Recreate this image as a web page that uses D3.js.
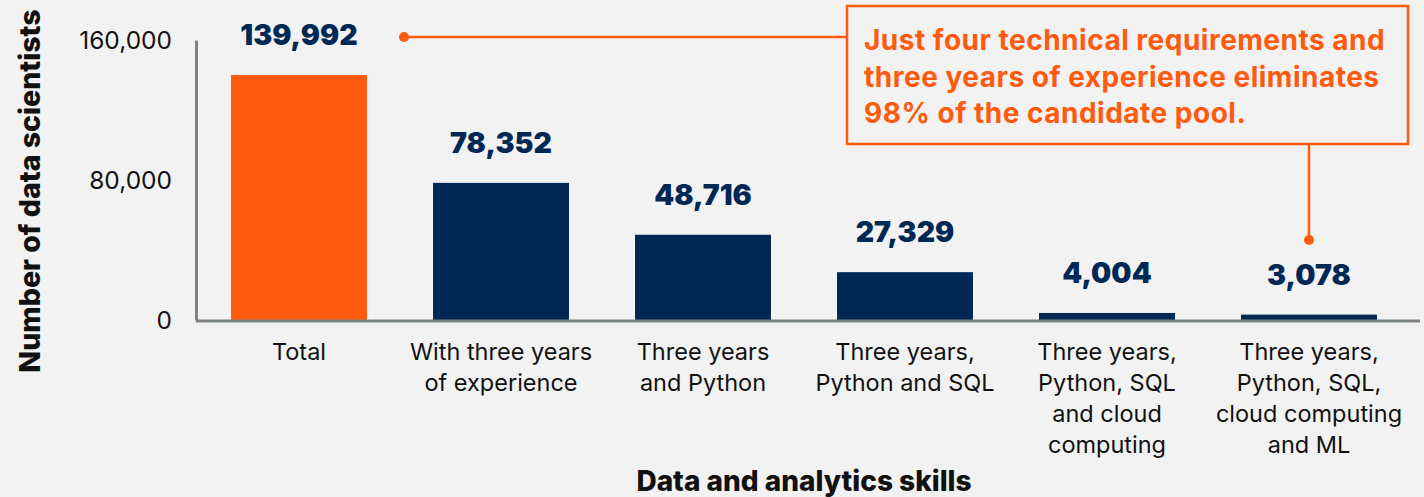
<!DOCTYPE html>
<meta charset="UTF-8">
<style>
body { margin: 0; background: #f2f2f2; }
svg { display: block; }
.tick text { font: 24.5px Inter, sans-serif; fill: #111; }
.val { font: 900 28.5px Inter, sans-serif; fill: #002855; text-anchor: middle; }
.ttl { font: 800 28px Inter, sans-serif; fill: #111; text-anchor: middle; }
.note { font: 700 28px Inter, sans-serif; fill: #ff5a0d; letter-spacing: 0.5px; }
</style>
<body>
<script src="https://d3js.org/d3.v7.min.js"></script>
<script>
var categories = [
  ["Total"],
  ["With three years", "of experience"],
  ["Three years", "and Python"],
  ["Three years,", "Python and SQL"],
  ["Three years,", "Python, SQL", "and cloud", "computing"],
  ["Three years,", "Python, SQL,", "cloud computing", "and ML"]
];
var values = [139992, 78352, 48716, 27329, 4004, 3078];
var yTicks = [0, 80000, 160000];
var noteLines = [
  "Just four technical requirements and",
  "three years of experience eliminates",
  "98% of the candidate pool."
];

var width = 1424, height = 497;
var orange = "#ff5a0d", navy = "#002855", axisGrey = "#7c8383";

var svg = d3.select("body").append("svg")
    .attr("width", width)
    .attr("height", height);

var x = d3.scaleBand()
    .domain(d3.range(values.length))
    .range([198, 1410])
    .paddingInner(0.327)
    .paddingOuter(0.1635);

var y = d3.scaleLinear()
    .domain([0, 160000])
    .range([320, 40]);

// bars
svg.selectAll("rect.bar")
    .data(values)
  .enter().append("rect")
    .attr("class", "bar")
    .attr("x", function(d, i) { return x(i); })
    .attr("width", x.bandwidth())
    .attr("y", function(d) { return y(d); })
    .attr("height", function(d) { return y(0) - y(d); })
    .attr("fill", function(d, i) { return i == 0 ? orange : navy; });

// value labels
svg.selectAll("text.val")
    .data(values)
  .enter().append("text")
    .attr("class", "val")
    .attr("x", function(d, i) { return x(i) + x.bandwidth() / 2; })
    .attr("y", function(d) { return y(d) - 30; })
    .text(d3.format(","));

// y axis
var yAxis = svg.append("g")
    .attr("transform", "translate(196,0)")
    .call(d3.axisLeft(y).tickValues(yTicks).tickFormat(d3.format(",")).tickSize(0).tickPadding(24));
yAxis.select(".domain").attr("stroke", axisGrey).attr("stroke-width", 3);
yAxis.selectAll(".tick text").attr("dy", "0.36em");

// baseline
svg.append("line")
    .attr("x1", 196).attr("x2", 1420)
    .attr("y1", y(0) + 1).attr("y2", y(0) + 1)
    .attr("stroke", axisGrey).attr("stroke-width", 3);

// category labels
var cat = svg.selectAll("text.cat")
    .data(categories)
  .enter().append("text")
    .attr("class", "cat")
    .attr("text-anchor", "middle")
    .style("font", "23.5px Inter, sans-serif")
    .style("fill", "#111");
cat.selectAll("tspan")
    .data(function(d, i) { return d.map(function(t) { return {t: t, i: i}; }); })
  .enter().append("tspan")
    .attr("x", function(d) { return x(d.i) + x.bandwidth() / 2; })
    .attr("y", function(d, j) { return 360 + j * 31; })
    .text(function(d) { return d.t; });

// axis titles
svg.append("text")
    .attr("class", "ttl")
    .attr("transform", "translate(40,191) rotate(-90)")
    .style("font-size", "28.5px")
    .text("Number of data scientists");
svg.append("text")
    .attr("class", "ttl")
    .attr("x", 804).attr("y", 491)
    .text("Data and analytics skills");

// annotation box + connectors
var box = {x: 847, y: 6, w: 561, h: 138};
svg.append("rect")
    .attr("x", box.x).attr("y", box.y)
    .attr("width", box.w).attr("height", box.h)
    .attr("fill", "none").attr("stroke", orange).attr("stroke-width", 2.5);

var dot1x = x(0) + x.bandwidth() / 2 + 105, dot1y = 37;
svg.append("line")
    .attr("x1", dot1x).attr("x2", box.x)
    .attr("y1", dot1y).attr("y2", dot1y)
    .attr("stroke", orange).attr("stroke-width", 2.5);
svg.append("circle").attr("cx", dot1x).attr("cy", dot1y).attr("r", 5).attr("fill", orange);

var dot2x = x(5) + x.bandwidth() / 2, dot2y = 240;
svg.append("line")
    .attr("x1", dot2x).attr("x2", dot2x)
    .attr("y1", box.y + box.h).attr("y2", dot2y)
    .attr("stroke", orange).attr("stroke-width", 2.5);
svg.append("circle").attr("cx", dot2x).attr("cy", dot2y).attr("r", 5).attr("fill", orange);

svg.append("text")
    .attr("class", "note")
    .selectAll("tspan")
    .data(noteLines)
  .enter().append("tspan")
    .attr("x", box.x + 17)
    .attr("y", function(d, i) { return 50 + i * 36.5; })
    .text(function(d) { return d; });
</script>
</body>
